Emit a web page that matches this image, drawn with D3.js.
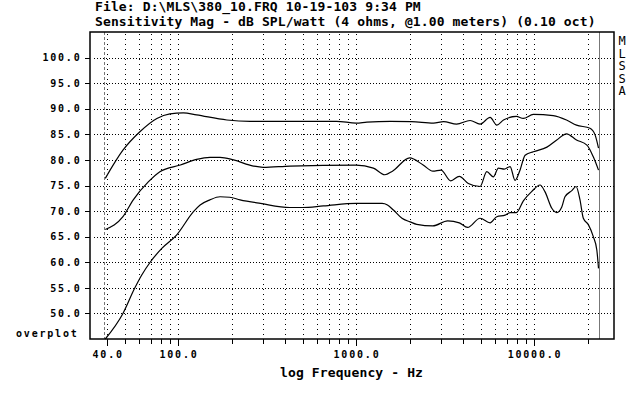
<!DOCTYPE html>
<html>
<head>
<meta charset="utf-8">
<script src="https://cdn.jsdelivr.net/npm/d3@7"></script>
<style>
    body { margin: 0; background: #fff; }
    .mono { font-family: "DejaVu Sans Mono", monospace; fill: #000; }
    .tick-label { font-family: "DejaVu Sans Mono", monospace; font-weight: bold; font-size: 10px; letter-spacing: 1.8px; fill: #000; }
</style>
</head>
<body>
<script>
// set the dimensions and margins of the graph
const SCREEN_DIMENSIONS = {
    width: 639,
    height: 396,
    plotLeft: 90,
    plotRight: 614,
    plotTop: 32,
    plotBottom: 339
};

const TITLE_LINES = [
    'File: D:\\MLS\\380_10.FRQ 10-19-103 9:34 PM',
    'Sensitivity Mag - dB SPL/watt (4 ohms, @1.00 meters) (0.10 oct)'
];
const X_LABEL = 'log Frequency - Hz';
const SIDE_LABEL = ['M', 'L', 'S', 'S', 'A'];

// axis values
const yTickValues = [50, 55, 60, 65, 70, 75, 80, 85, 90, 95, 100];
const xGridFreqs = [40, 50, 60, 70, 80, 90, 100, 200, 300, 400, 500, 600, 700, 800, 900,
                    1000, 2000, 3000, 4000, 5000, 6000, 7000, 8000, 9000, 10000, 20000];
const xLabelFreqs = [40, 100, 1000, 10000];
const markerFreqs = [39, 23000]; // cursor markers (left dashed, right solid)

// top curve
const curve1Freq = [39, 49, 61, 76, 90, 107, 127, 188, 254, 500, 777, 1000, 1150, 1560, 2050, 2720, 3100,
                    3670, 4370, 4970, 5660, 6170, 6730, 7950, 8700, 9900, 12800, 15200, 17300, 20600, 22000, 23000];
const curve1Db   = [76.4, 81.9, 85.5, 88.1, 89.0, 89.2, 88.8, 87.8, 87.55, 87.55, 87.55, 87.2, 87.4, 87.55, 87.5, 87.2, 87.5,
                    87.0, 87.7, 87.0, 88.3, 86.8, 87.8, 88.5, 88.1, 88.9, 88.65, 87.8, 86.8, 86.2, 84.9, 82.3];

// middle curve
const curve2Freq = [39, 49, 56, 68, 79, 103, 127, 151, 172, 205, 265, 300, 425, 1000, 1250, 1450, 1600, 2000, 2380,
                    2700, 3000, 3400, 3800, 4270, 4970, 5420, 5900, 6300, 6800, 7330, 7810, 8330, 8900, 9900,
                    11800, 13400, 15200, 17300, 19800, 21500, 23000];
const curve2Db   = [66.4, 68.9, 72.2, 75.7, 77.7, 79.0, 80.1, 80.5, 80.5, 80.0, 78.8, 78.55, 78.8, 79.0, 78.4, 77.1, 77.8, 80.4, 79.0,
                    77.8, 78.0, 75.9, 76.8, 75.4, 74.8, 77.7, 76.7, 78.4, 78.2, 78.7, 76.0, 78.0, 80.9, 81.6,
                    82.5, 83.9, 85.1, 83.9, 82.9, 80.6, 78.0];

// bottom curve
const curve3Freq = [39, 49, 57, 62.5, 70, 81, 98, 122, 133, 151, 172, 195, 223, 290, 425, 500, 655, 1000, 1400, 1500,
                    1620, 1810, 2010, 2190, 2700, 3270, 3800, 4230, 4970, 5660, 6170, 6870, 7330, 7950, 8700,
                    9680, 10800, 11500, 12600, 13400, 14300, 14900, 16300, 17200, 18100, 18900, 20200, 21500, 22500, 23000];
const curve3Db   = [45.0, 50.0, 54.9, 57.5, 60.1, 62.7, 65.3, 69.9, 71.2, 72.2, 72.8, 72.7, 72.2, 71.5, 70.7, 70.7, 71.0, 71.5, 71.5, 71.2,
                    70.2, 68.6, 67.9, 67.4, 67.1, 68.1, 67.7, 66.8, 68.6, 67.7, 68.9, 69.2, 69.7, 69.7, 72.0,
                    73.8, 75.1, 73.8, 70.5, 69.7, 70.8, 72.8, 74.0, 74.8, 72.2, 68.6, 67.3, 65.0, 62.4, 58.8];

const curves = [
    d3.zip(curve1Freq, curve1Db),
    d3.zip(curve2Freq, curve2Db),
    d3.zip(curve3Freq, curve3Db)
];

// append the svg object to the body of the page
const svg = d3.select('body').append('svg')
    .attr('width', SCREEN_DIMENSIONS.width)
    .attr('height', SCREEN_DIMENSIONS.height);

svg.append('rect')
    .attr('width', SCREEN_DIMENSIONS.width)
    .attr('height', SCREEN_DIMENSIONS.height)
    .attr('fill', '#fff');

const xScale = d3.scaleLog()
    .domain([32, 28100])
    .range([SCREEN_DIMENSIONS.plotLeft, SCREEN_DIMENSIONS.plotRight]);
const yScale = d3.scaleLinear()
    .domain([45, 105])
    .range([SCREEN_DIMENSIONS.plotBottom, SCREEN_DIMENSIONS.plotTop]);

// grid
const grid = svg.append('g');
grid.selectAll('.hgrid')
    .data(yTickValues)
    .join('line')
    .attr('class', 'hgrid')
    .attr('x1', SCREEN_DIMENSIONS.plotLeft + 4)
    .attr('x2', SCREEN_DIMENSIONS.plotRight)
    .attr('y1', d => Math.round(yScale(d)) + 0.5)
    .attr('y2', d => Math.round(yScale(d)) + 0.5)
    .attr('stroke', '#000')
    .attr('stroke-dasharray', '1,2');

grid.selectAll('.vgrid')
    .data(xGridFreqs)
    .join('line')
    .attr('class', 'vgrid')
    .attr('x1', d => Math.round(xScale(d)) + 0.5)
    .attr('x2', d => Math.round(xScale(d)) + 0.5)
    .attr('y1', SCREEN_DIMENSIONS.plotTop + 2)
    .attr('y2', SCREEN_DIMENSIONS.plotBottom)
    .attr('stroke', '#000')
    .attr('stroke-dasharray', '1,4');

// markers
svg.append('line')
    .attr('x1', Math.round(xScale(markerFreqs[0])) - 0.5)
    .attr('x2', Math.round(xScale(markerFreqs[0])) - 0.5)
    .attr('y1', SCREEN_DIMENSIONS.plotTop)
    .attr('y2', SCREEN_DIMENSIONS.plotBottom)
    .attr('stroke', '#777')
    .attr('stroke-dasharray', '3,2');
svg.append('line')
    .attr('x1', Math.round(xScale(markerFreqs[1])) + 0.5)
    .attr('x2', Math.round(xScale(markerFreqs[1])) + 0.5)
    .attr('y1', SCREEN_DIMENSIONS.plotTop)
    .attr('y2', SCREEN_DIMENSIONS.plotBottom)
    .attr('stroke', '#777');

// curves
const line = d3.line()
    .x(d => xScale(d[0]))
    .y(d => yScale(d[1]))
    .curve(d3.curveMonotoneX);

svg.append('g')
    .selectAll('path')
    .data(curves)
    .join('path')
    .attr('d', line)
    .attr('fill', 'none')
    .attr('stroke', '#000')
    .attr('stroke-width', 1.2);

// frame
svg.append('rect')
    .attr('x', SCREEN_DIMENSIONS.plotLeft)
    .attr('y', SCREEN_DIMENSIONS.plotTop)
    .attr('width', SCREEN_DIMENSIONS.plotRight - SCREEN_DIMENSIONS.plotLeft)
    .attr('height', SCREEN_DIMENSIONS.plotBottom - SCREEN_DIMENSIONS.plotTop)
    .attr('fill', 'none')
    .attr('stroke', '#000')
    .attr('stroke-width', 1.5);

// y ticks + labels
svg.selectAll('.ytick')
    .data(yTickValues)
    .join('line')
    .attr('class', 'ytick')
    .attr('x1', SCREEN_DIMENSIONS.plotLeft - 5)
    .attr('x2', SCREEN_DIMENSIONS.plotLeft)
    .attr('y1', d => Math.round(yScale(d)) + 0.5)
    .attr('y2', d => Math.round(yScale(d)) + 0.5)
    .attr('stroke', '#000');

svg.selectAll('.ylabel')
    .data(yTickValues)
    .join('text')
    .attr('class', 'tick-label')
    .attr('text-anchor', 'end')
    .attr('x', 81.5)
    .attr('y', d => yScale(d) + 3.7)
    .text(d3.format('.1f'));

svg.append('text')
    .attr('class', 'tick-label')
    .attr('x', 16)
    .attr('y', 336.5)
    .text('overplot');

// x ticks + labels
svg.selectAll('.xtick')
    .data(xGridFreqs)
    .join('line')
    .attr('class', 'xtick')
    .attr('x1', d => Math.round(xScale(d)) + 0.5)
    .attr('x2', d => Math.round(xScale(d)) + 0.5)
    .attr('y1', SCREEN_DIMENSIONS.plotBottom)
    .attr('y2', d => SCREEN_DIMENSIONS.plotBottom + (xLabelFreqs.includes(d) ? 7 : 5))
    .attr('stroke', '#000');

svg.selectAll('.xlabel')
    .data(xLabelFreqs)
    .join('text')
    .attr('class', 'tick-label')
    .attr('text-anchor', 'middle')
    .attr('x', d => xScale(d) + 0.9)
    .attr('y', 358)
    .text(d3.format('.1f'));

// titles
svg.selectAll('.title')
    .data(TITLE_LINES)
    .join('text')
    .attr('class', 'mono')
    .attr('x', 95)
    .attr('y', (d, i) => 10.5 + i * 15.3)
    .attr('font-size', 13)
    .attr('font-weight', 'bold')
    .attr('letter-spacing', 0.12)
    .text(d => d);

svg.append('text')
    .attr('class', 'mono')
    .attr('x', 280)
    .attr('y', 377)
    .attr('font-size', 13)
    .attr('font-weight', 'bold')
    .attr('letter-spacing', 0.12)
    .text(X_LABEL);

svg.selectAll('.side')
    .data(SIDE_LABEL)
    .join('text')
    .attr('class', 'mono')
    .attr('x', 622)
    .attr('y', (d, i) => 45 + i * 12.5)
    .attr('text-anchor', 'middle')
    .attr('font-size', 12)
    .text(d => d);
</script>
</body>
</html>
